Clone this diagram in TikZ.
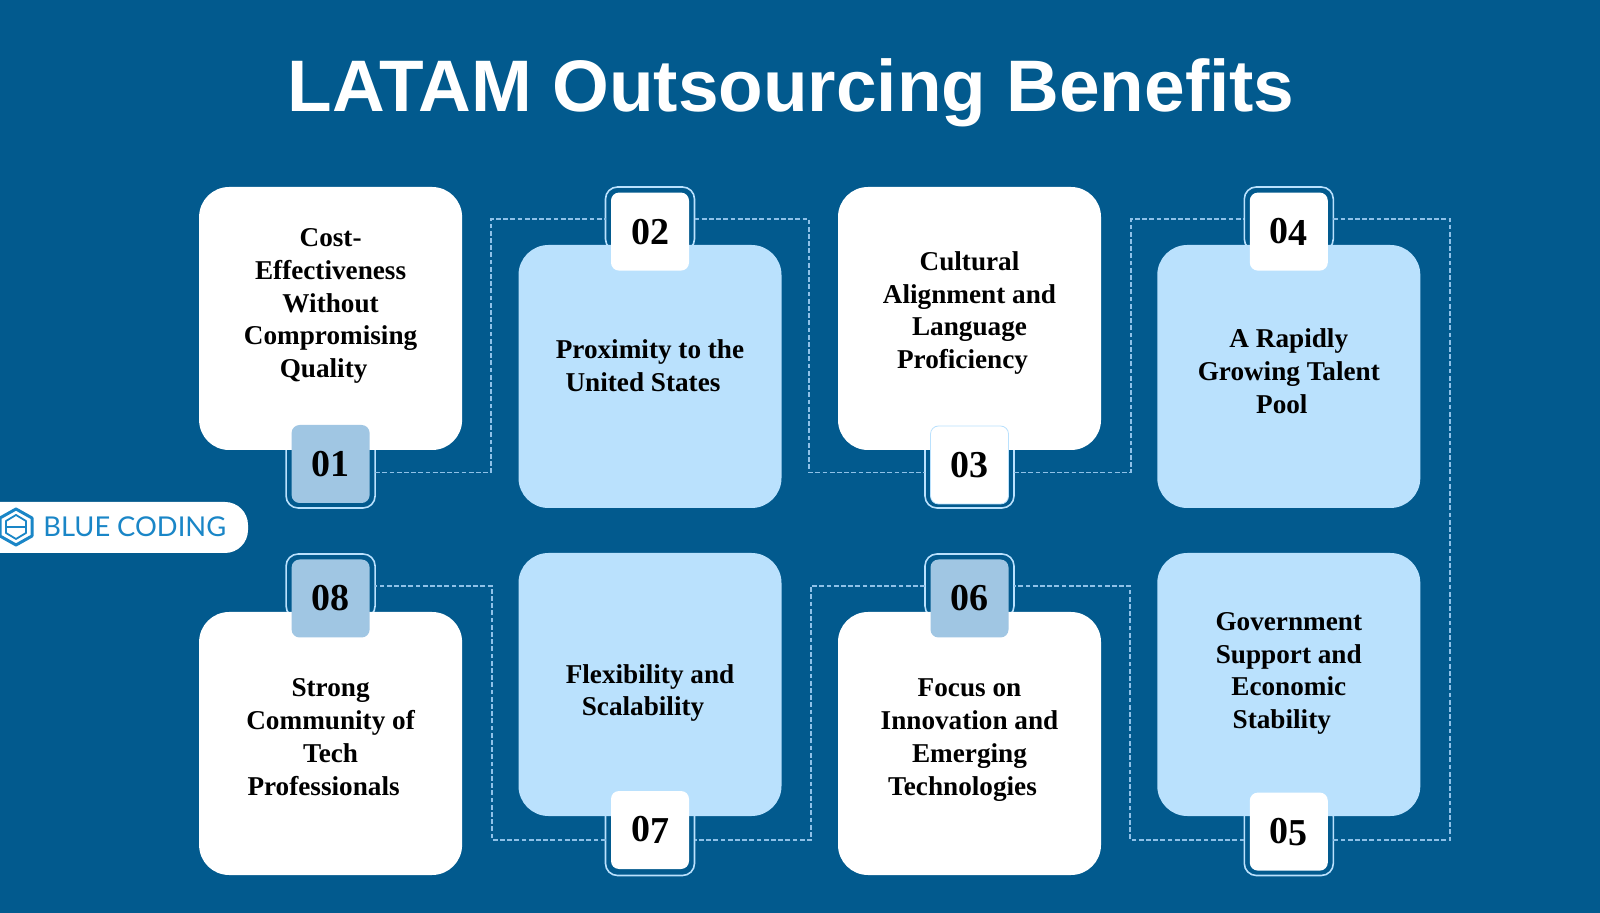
\documentclass[tikz,border=0pt]{standalone}
\usepackage{fontspec}
\setmainfont{Liberation Serif}
\newfontfamily\titlefont{Liberation Sans}
\newfontfamily\logofont{Lato}
\usepackage{tikz}
\usetikzlibrary{calc, positioning, shapes.geometric}
\definecolor{bgblue}{HTML}{025A8E}
\definecolor{paleblue}{HTML}{BAE1FD}
\definecolor{midblue}{HTML}{A0C6E3}
\definecolor{dashblue}{HTML}{8FC1E8}
\definecolor{logoblue}{HTML}{1A86C7}

\begin{document}
\begin{tikzpicture}[x=0.5pt, y=-0.5pt,% styles used in image code
card/.style = {rounded corners=15pt, minimum width=131.5pt, minimum height=131.5pt,
               inner sep=0pt, outer sep=0pt, node contents={}},
frame/.style = {draw=paleblue, line width=0.8pt, rounded corners=6pt, minimum width=44.5pt,
               inner sep=0pt, outer sep=0pt, minimum height=#1, node contents={}},
num/.style = {rounded corners=4pt, minimum width=39pt, minimum height=39pt,
              inner sep=0pt, outer sep=0pt,
              font=\bfseries\fontsize{19}{19}\selectfont},
txt/.style = {align=center, inner sep=0pt,
              font=\bfseries\fontsize{13.6}{16.4}\selectfont},
link/.style = {draw=dashblue, line width=0.7pt, dash pattern=on 2.4pt off 1.2pt}
                        ]
	% background and title
	\fill[bgblue] (0,0) rectangle (1600,913);
	\useasboundingbox (0,0) rectangle (1600,913);
	\node[white, font=\titlefont\bfseries\fontsize{36.5}{36.5}\selectfont] (title) at (791,93) {LATAM Outsourcing Benefits};

	% frames behind the numbers
	\node (f1) at (330.6,472.5) [frame=35.5pt];
	\node (f2) at (650,219) [frame=32pt];
	\node (f3) at (969.5,472.5) [frame=35.5pt];
	\node (f4) at (1288.8,219) [frame=32pt];
	\node (f5) at (1288.8,840) [frame=35.5pt];
	\node (f6) at (969.5,586) [frame=32pt];
	\node (f7) at (650,840) [frame=35.5pt];
	\node (f8) at (330.6,586) [frame=32pt];

	% dashed connectors
	\coordinate (c1) at (491,219);
	\coordinate (c2) at (809,472.5);
	\coordinate (c3) at (1131,219);
	\coordinate (c4) at (1450,840);
	\coordinate (c5) at (1130,586);
	\coordinate (c6) at (811,840);
	\coordinate (c7) at (492,586);
	\draw[link] (f1.east) -| (c1) -- (f2.west);
	\draw[link] (f2.east) -| (c2) -- (f3.west);
	\draw[link] (f3.east) -| (c3) -- (f4.west);
	\draw[link] (f4.east) -| (c4) -- (f5.east);
	\draw[link] (f5.west) -| (c5) -- (f6.east);
	\draw[link] (f6.west) -| (c6) -- (f7.east);
	\draw[link] (f7.west) -| (c7) -- (f8.east);

	% cards
	\node (a) at (330.6,318.5) [card, fill=white];
	\node (b) at (650,376.5) [card, fill=paleblue];
	\node (c) at (969.5,318.5) [card, fill=white];
	\node (d) at (1288.8,376.5) [card, fill=paleblue];
	\node (e) at (1288.8,684.5) [card, fill=paleblue];
	\node (f) at (969.5,743.5) [card, fill=white];
	\node (g) at (650,684.5) [card, fill=paleblue];
	\node (h) at (330.6,743.5) [card, fill=white];

	% numbers
	\node[num, fill=midblue] (n1) at (330.6,464) {01};
	\node[num, fill=white] (n2) at (650,231.6) {02};
	\node[num, fill=white, draw=paleblue, line width=0.4pt] (n3) at (969.5,465) {03};
	\node[num, fill=white] (n4) at (1288.8,231.6) {0\raisebox{-1pt}{4}};
	\node[num, fill=white] (n5) at (1288.8,831.6) {0\raisebox{-1pt}{5}};
	\node[num, fill=midblue] (n6) at (969.5,598.5) {06};
	\node[num, fill=white] (n7) at (650,830) {0\raisebox{-1pt}{7}};
	\node[num, fill=midblue] (n8) at (330.6,598.5) {08};

	% card texts, last lines sit a little to the left
	\node[txt] (t1) at (330.6,306) {Cost-\\Effectiveness\\Without\\Compromising\\Quality\hspace*{7pt}};
	\node[txt] (t2) at (650,366) {Proximity to the\\United States\hspace*{7pt}};
	\node[txt] (t3) at (969.5,313) {Cultural\\Alignment and\\Language\\Proficiency\hspace*{7pt}};
	\node[txt] (t4) at (1288.8,371) {A Rapidly\\Growing Talent\\Pool\hspace*{7pt}};
	\node[txt] (t5) at (1288.8,673.5) {Government\\Support and\\Economic\\Stability\hspace*{7pt}};
	\node[txt] (t6) at (969.5,740) {Focus on\\Innovation and\\Emerging\\Technologies\hspace*{7pt}};
	\node[txt] (t7) at (650,693) {Flexibility and\\Scalability\hspace*{7pt}};
	\node[txt] (t8) at (330.6,737) {Strong\\Community of\\Tech\\Professionals\hspace*{7pt}};

	% logo
	\fill[white, rounded corners=11.5pt] (0,502) -| (248,553) -- (0,553);
	\draw[logoblue, line width=1.5pt, line join=round] (16,509) -- (32,518) -- (32,536) -- (16,545) -- (0,536) -- (0,518) -- cycle;
	\draw[logoblue, line width=0.9pt, line join=round] (16,515) -- (26,521) -- (26,533) -- (16,539) -- (6,533) -- (6,521) -- cycle;
	\draw[logoblue, line width=0.9pt] (6,527) -- (26,527);
	\node[logoblue, anchor=west, inner sep=0pt, font=\logofont\fontsize{13.65}{13.65}\selectfont] (logo) at (43,527) {BLUE CODING};
\end{tikzpicture}
\end{document}
